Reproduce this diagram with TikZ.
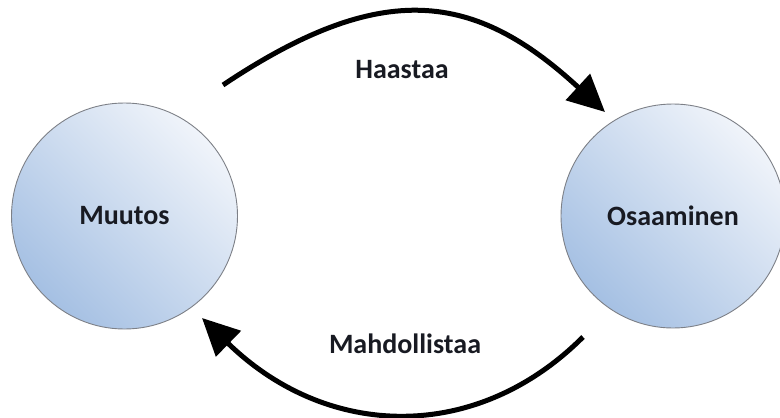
\documentclass[tikz,border=0pt]{standalone}
\usepackage{fontspec}
\setmainfont{Carlito}
\usetikzlibrary{arrows.meta}
\definecolor{txt}{RGB}{24,26,34}
\definecolor{ballhi}{RGB}{240,244,250}
\definecolor{balllo}{RGB}{165,192,227}
\definecolor{rim}{RGB}{125,128,135}
\tikzset{
  ball/.style={circle, minimum size=#1, inner sep=0pt, draw=rim, line width=0.9pt,
    top color=ballhi, bottom color=balllo, shading angle=-45,
    font=\fontsize{28}{30}\selectfont\bfseries, text=txt},
  lbl/.style={anchor=base, font=\fontsize{28}{30}\selectfont\bfseries, text=txt},
  flow/.style={line width=5pt, -{Triangle[length=37pt,width=35pt]}}
}
\begin{document}
\begin{tikzpicture}[x=1pt,y=-1pt]
\useasboundingbox (0,0) rectangle (780,418);
\node[ball=226pt] (muutos) at (124.5,216) {Muutos};
\node[ball=224pt] (osaaminen) at (673,216) {Osaaminen};
\coordinate (t0) at (223,85);
\coordinate (t1) at (605,112);
\coordinate (b0) at (583,337);
\coordinate (b1) at (202,318);
\draw[flow] (t0) .. controls (383,-22) and (475,-8) .. (t1);
\draw[flow] (b0) .. controls (477,443) and (328,440.5) .. (b1);
\node[lbl] (haastaa) at (402,78) {Haastaa};
\node[lbl] (mahd) at (405,353) {Mahdollistaa};
\end{tikzpicture}
\end{document}
